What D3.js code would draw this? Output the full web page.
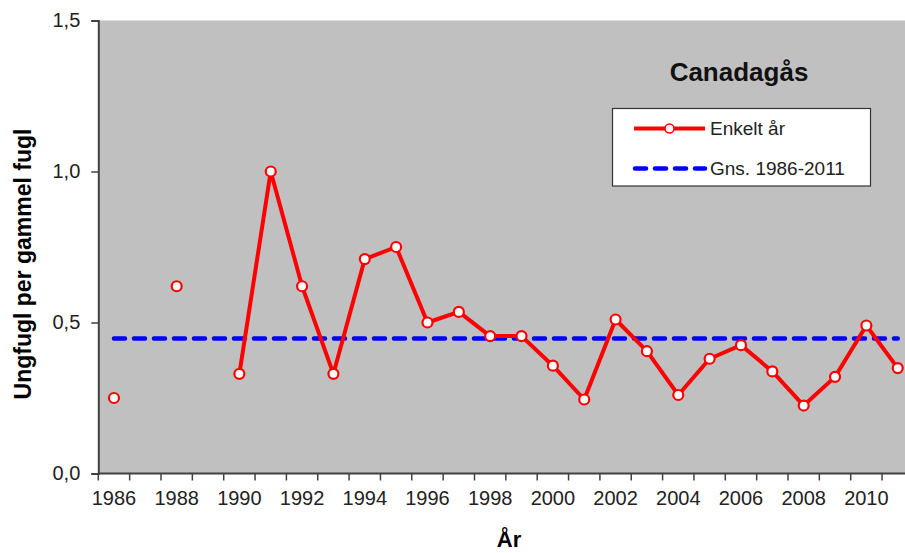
<!DOCTYPE html>
<html lang="no">
<head>
    <meta charset="UTF-8">
    <title>Canadagås</title>
    <script src="https://d3js.org/d3.v7.min.js"></script>
    <style>
        body {
            margin: 0;
            padding: 0;
            background: #fff;
            font-family: "Liberation Sans", Arial, sans-serif;
        }
        svg {
            display: block;
            overflow: hidden;
        }
        .tick-label {
            font-size: 20px;
            fill: #222;
        }
        .axis-title {
            font-weight: bold;
            fill: #000;
        }
        .legend-text {
            font-size: 19px;
            fill: #222;
        }
    </style>
</head>
<body>
    <div id="chart"></div>

    <script>
        // Data (null = no value that year)
        const years = [1986, 1987, 1988, 1989, 1990, 1991, 1992, 1993, 1994, 1995,
                       1996, 1997, 1998, 1999, 2000, 2001, 2002, 2003, 2004, 2005,
                       2006, 2007, 2008, 2009, 2010, 2011];
        const values = [0.25, null, 0.62, null, 0.33, 1.00, 0.62, 0.33, 0.71, 0.75,
                        0.50, 0.535, 0.455, 0.455, 0.357, 0.245, 0.51, 0.405, 0.26, 0.38,
                        0.425, 0.338, 0.225, 0.32, 0.49, 0.349];
        const average = 0.447;
        const yTicks = [0, 0.5, 1.0, 1.5];
        const xTickYears = [1986, 1988, 1990, 1992, 1994, 1996, 1998, 2000, 2002, 2004, 2006, 2008, 2010];

        const W = 905, H = 553;
        const plot = { left: 98.3, top: 20.5, bottom: 473.5, step: 31.35 };

        const svg = d3.select("#chart").append("svg")
            .attr("width", W)
            .attr("height", H);

        const x = d3.scaleBand()
            .domain(years)
            .range([plot.left, plot.left + plot.step * years.length])
            .padding(0);

        const y = d3.scaleLinear()
            .domain([0, 1.5])
            .range([plot.bottom, plot.top]);

        const cx = yr => x(yr) + x.bandwidth() / 2;
        const fmt = v => d3.format(".1f")(v).replace(".", ",");

        // plot area
        svg.append("rect")
            .attr("x", plot.left)
            .attr("y", plot.top)
            .attr("width", plot.step * years.length)
            .attr("height", plot.bottom - plot.top)
            .attr("fill", "#c0c0c0");

        // y axis
        const yAxis = svg.append("g")
            .attr("transform", `translate(${plot.left},0)`)
            .call(d3.axisLeft(y).tickValues(yTicks).tickFormat(fmt).tickSize(7).tickPadding(11));
        yAxis.select(".domain").attr("stroke", "#404040").attr("stroke-width", 2);
        yAxis.selectAll(".tick line").attr("stroke", "#404040").attr("stroke-width", 1.5);
        yAxis.selectAll(".tick text").attr("class", "tick-label").attr("font-family", null).attr("font-size", null);

        // x axis: labels centred in categories, ticks between categories
        const xAxis = svg.append("g")
            .attr("transform", `translate(0,${plot.bottom})`)
            .call(d3.axisBottom(x).tickValues(xTickYears).tickSize(0).tickPadding(17));
        xAxis.select(".domain").remove();
        xAxis.selectAll(".tick text").attr("class", "tick-label").attr("font-family", null).attr("font-size", null);

        svg.append("line")
            .attr("x1", plot.left).attr("x2", plot.left + plot.step * years.length)
            .attr("y1", plot.bottom).attr("y2", plot.bottom)
            .attr("stroke", "#404040").attr("stroke-width", 2);

        svg.append("g").selectAll("line")
            .data(years)
            .join("line")
            .attr("x1", d => x(d)).attr("x2", d => x(d))
            .attr("y1", plot.bottom).attr("y2", plot.bottom + 7)
            .attr("stroke", "#404040").attr("stroke-width", 1.5);

        // axis titles
        svg.append("text")
            .attr("class", "axis-title")
            .attr("transform", `translate(31,264) rotate(-90)`)
            .attr("text-anchor", "middle")
            .attr("font-size", 23)
            .text("Ungfugl per gammel fugl");

        svg.append("text")
            .attr("class", "axis-title")
            .attr("x", 509)
            .attr("y", 547)
            .attr("text-anchor", "middle")
            .attr("font-size", 22)
            .text("År");

        // average line
        svg.append("line")
            .attr("x1", cx(years[0]))
            .attr("x2", cx(years[years.length - 1]))
            .attr("y1", y(average)).attr("y2", y(average))
            .attr("stroke", "#0000ff")
            .attr("stroke-width", 4.5)
            .attr("stroke-linecap", "round")
            .attr("stroke-dasharray", "11,9");

        // yearly series
        const data = years.map((yr, i) => ({ year: yr, value: values[i] }));

        svg.append("path")
            .datum(data)
            .attr("fill", "none")
            .attr("stroke", "#ff0000")
            .attr("stroke-width", 4)
            .attr("stroke-linejoin", "round")
            .attr("d", d3.line()
                .defined(d => d.value != null)
                .x(d => cx(d.year))
                .y(d => y(d.value)));

        svg.append("g").selectAll("circle")
            .data(data.filter(d => d.value != null))
            .join("circle")
            .attr("cx", d => cx(d.year))
            .attr("cy", d => y(d.value))
            .attr("r", 5)
            .attr("fill", "#fff")
            .attr("stroke", "#ff0000")
            .attr("stroke-width", 2.2);

        // title + legend
        svg.append("text")
            .attr("x", 739)
            .attr("y", 81)
            .attr("text-anchor", "middle")
            .attr("font-weight", "bold")
            .attr("font-size", 26)
            .attr("fill", "#111")
            .text("Canadagås");

        const legend = svg.append("g");
        legend.append("rect")
            .attr("x", 612.5).attr("y", 108.5)
            .attr("width", 258).attr("height", 77.5)
            .attr("fill", "#fff")
            .attr("stroke", "#333")
            .attr("stroke-width", 1.2);

        legend.append("line")
            .attr("x1", 634).attr("x2", 705)
            .attr("y1", 128.5).attr("y2", 128.5)
            .attr("stroke", "#ff0000").attr("stroke-width", 4);
        legend.append("circle")
            .attr("cx", 669.5).attr("cy", 128.5).attr("r", 4.5)
            .attr("fill", "#fff").attr("stroke", "#ff0000").attr("stroke-width", 1.5);
        legend.append("text")
            .attr("class", "legend-text")
            .attr("x", 710).attr("y", 128.5).attr("dy", "0.35em")
            .text("Enkelt år");

        legend.append("line")
            .attr("x1", 635).attr("x2", 705)
            .attr("y1", 168.5).attr("y2", 168.5)
            .attr("stroke", "#0000ff").attr("stroke-width", 4.5)
            .attr("stroke-linecap", "round")
            .attr("stroke-dasharray", "11,9");
        legend.append("text")
            .attr("class", "legend-text")
            .attr("x", 710).attr("y", 168.5).attr("dy", "0.35em")
            .text("Gns. 1986-2011");
    </script>
</body>
</html>
